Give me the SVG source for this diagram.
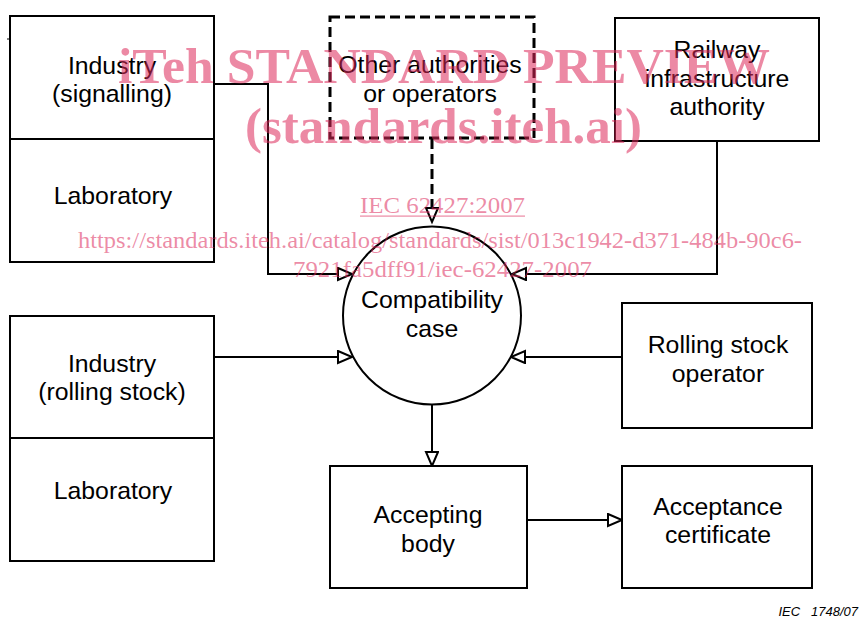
<svg xmlns="http://www.w3.org/2000/svg" width="860" height="619" viewBox="0 0 860 619">
<style>
.box{fill:#fff;stroke:#000;stroke-width:2}
.dash{fill:none;stroke:#000;stroke-width:3;stroke-dasharray:10 5}
.ln{fill:none;stroke:#000;stroke-width:2}
.t{font-family:"Liberation Sans",Arial,sans-serif;font-size:24.8px;fill:#000;text-anchor:middle}
.wm{font-family:"Liberation Serif","Times New Roman",serif;fill:#dc285a;fill-opacity:0.55}
.wb{font-weight:bold;font-size:50px}
.wr{font-size:24px}
</style>
<defs>
<marker id="arr" markerUnits="userSpaceOnUse" markerWidth="18" markerHeight="16" refX="15" refY="7" orient="auto" viewBox="0 0 18 16">
<path d="M1,1 L15,7 L1,13 z" fill="#fff" stroke="#000" stroke-width="2"/>
</marker>
</defs>
<rect width="860" height="619" fill="#fff"/>
<line x1="7" y1="39" x2="10" y2="39" stroke="#000" stroke-width="1"/>

<g id="connectors">
<polyline class="ln" points="214,84 268,84 268,274 352,274" marker-end="url(#arr)"/>
<polyline class="ln" points="717,141 717,274 512,274" marker-end="url(#arr)"/>
<line class="dash" x1="432" y1="139" x2="432" y2="207"/>
<line class="ln" x1="432" y1="205" x2="432" y2="222" marker-end="url(#arr)"/>
<line class="ln" x1="214" y1="357" x2="352" y2="357" marker-end="url(#arr)"/>
<line class="ln" x1="622" y1="357" x2="511" y2="357" marker-end="url(#arr)"/>
<line class="ln" x1="432" y1="404" x2="432" y2="466" marker-end="url(#arr)"/>
<line class="ln" x1="527" y1="520" x2="622" y2="520" marker-end="url(#arr)"/>
</g>

<g id="industry-signalling">
<rect class="box" x="10" y="16" width="204" height="123"/>
<text class="t" x="112" y="74">Industry</text>
<text class="t" x="112" y="102">(signalling)</text>
</g>
<g id="laboratory-1">
<rect class="box" x="10" y="139" width="204" height="123"/>
<text class="t" x="113" y="204">Laboratory</text>
</g>
<g id="other-authorities">
<rect class="dash" x="330" y="17" width="204" height="121"/>
<text class="t" x="430" y="73">Other authorities</text>
<text class="t" x="430" y="102">or operators</text>
</g>
<g id="railway-authority">
<rect class="box" x="615" y="18" width="204" height="123"/>
<text class="t" x="717" y="58">Railway</text>
<text class="t" x="717" y="87">infrastructure</text>
<text class="t" x="717" y="115">authority</text>
</g>
<g id="compatibility-case">
<circle class="box" cx="432" cy="315.5" r="89"/>
<text class="t" x="432" y="308">Compatibility</text>
<text class="t" x="432" y="337">case</text>
</g>
<g id="industry-rolling-stock">
<rect class="box" x="10" y="316" width="204" height="122"/>
<text class="t" x="112" y="372">Industry</text>
<text class="t" x="112" y="400">(rolling stock)</text>
</g>
<g id="laboratory-2">
<rect class="box" x="10" y="438" width="204" height="123"/>
<text class="t" x="113" y="499">Laboratory</text>
</g>
<g id="rolling-stock-operator">
<rect class="box" x="622" y="303" width="190" height="125"/>
<text class="t" x="718" y="353">Rolling stock</text>
<text class="t" x="718" y="382">operator</text>
</g>
<g id="accepting-body">
<rect class="box" x="330" y="466" width="197" height="122"/>
<text class="t" x="428" y="523">Accepting</text>
<text class="t" x="428" y="552">body</text>
</g>
<g id="acceptance-certificate">
<rect class="box" x="622" y="466" width="190" height="122"/>
<text class="t" x="718" y="515">Acceptance</text>
<text class="t" x="718" y="543">certificate</text>
</g>

<text x="858" y="616" font-family="Liberation Sans,Arial,sans-serif" font-size="13" font-style="italic" text-anchor="end" xml:space="preserve">IEC   1748/07</text>

<g id="watermark" class="wm">
<text class="wb" x="118" y="83" textLength="652" lengthAdjust="spacingAndGlyphs">iTeh STANDARD PREVIEW</text>
<text class="wb" x="245" y="143" textLength="397" lengthAdjust="spacingAndGlyphs">(standards.iteh.ai)</text>
<text class="wr" x="360" y="213" textLength="165" lengthAdjust="spacingAndGlyphs">IEC 62427:2007</text>
<rect x="360" y="215.5" width="165" height="1.2"/>
<text class="wr" x="78" y="248" textLength="724" lengthAdjust="spacingAndGlyphs">https://standards.iteh.ai/catalog/standards/sist/013c1942-d371-484b-90c6-</text>
<text class="wr" x="293" y="277" textLength="299" lengthAdjust="spacingAndGlyphs">7921fa5dff91/iec-62427-2007</text>
</g>
</svg>
